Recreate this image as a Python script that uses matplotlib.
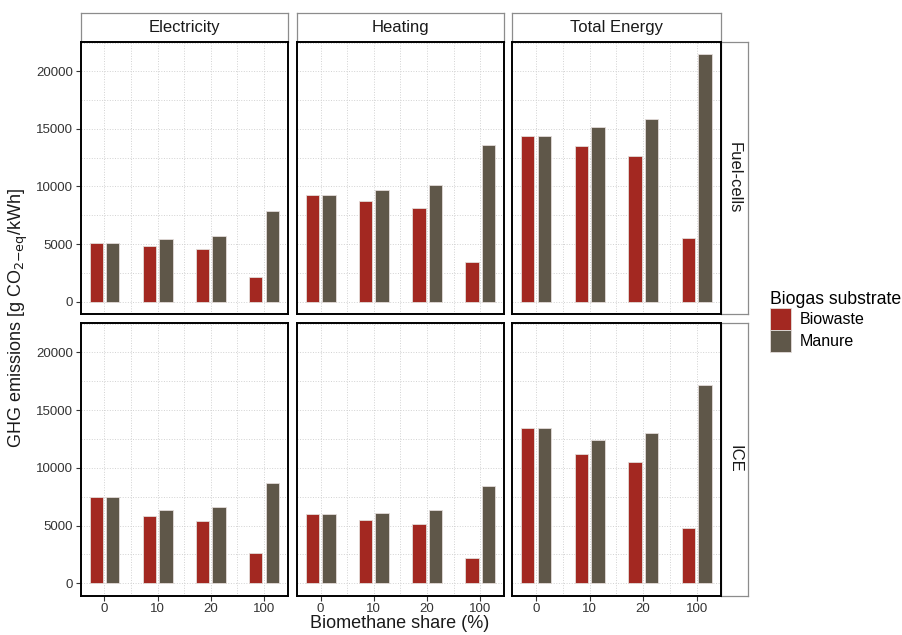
import numpy as np
import matplotlib.pyplot as plt
from matplotlib.ticker import FixedLocator, MultipleLocator
from matplotlib.patches import Patch

plt.rcParams['font.family'] = ['Liberation Sans', 'DejaVu Sans']

shares = ['0', '10', '20', '100']
energy_types = ['Electricity', 'Heating', 'Total Energy']
technologies = ['Fuel-cells', 'ICE']
substrates = ['Biowaste', 'Manure']
colors = ['#a32821', '#5f5749']

# Fuel-cells row
fc_elec_biowaste = [5130, 4830, 4570, 2130]
fc_elec_manure = [5130, 5410, 5670, 7910]
fc_heat_biowaste = [9270, 8720, 8090, 3400]
fc_heat_manure = [9270, 9700, 10130, 13640]
fc_total_biowaste = [14390, 13520, 12660, 5500]
fc_total_manure = [14390, 15140, 15850, 21490]

# ICE row
ice_elec_biowaste = [7480, 5790, 5400, 2590]
ice_elec_manure = [7480, 6360, 6650, 8690]
ice_heat_biowaste = [5960, 5470, 5100, 2210]
ice_heat_manure = [5960, 6130, 6360, 8460]
ice_total_biowaste = [13470, 11230, 10500, 4750]
ice_total_manure = [13470, 12440, 13000, 17150]

data = {
    ('Fuel-cells', 'Electricity'): (fc_elec_biowaste, fc_elec_manure),
    ('Fuel-cells', 'Heating'): (fc_heat_biowaste, fc_heat_manure),
    ('Fuel-cells', 'Total Energy'): (fc_total_biowaste, fc_total_manure),
    ('ICE', 'Electricity'): (ice_elec_biowaste, ice_elec_manure),
    ('ICE', 'Heating'): (ice_heat_biowaste, ice_heat_manure),
    ('ICE', 'Total Energy'): (ice_total_biowaste, ice_total_manure),
}

W, H = 903, 635
fig = plt.figure(figsize=(W / 100, H / 100), dpi=100)


def rect(x0, y0, x1, y1):
    # pixel box (top-left origin) -> figure fraction
    return [x0 / W, 1 - y1 / H, (x1 - x0) / W, (y1 - y0) / H]


col_x = [(80.5, 288.0), (296.7, 504.3), (512.0, 720.7)]
row_y = [(41.7, 314.0), (322.7, 595.7)]
strip_top = (13.3, 41.7)
strip_right = (720.7, 748.3)

x = np.arange(1, len(shares) + 1)
off = 0.155
bw = 0.25

# strips
for c, et in enumerate(energy_types):
    sax = fig.add_axes(rect(col_x[c][0], strip_top[0], col_x[c][1], strip_top[1]))
    sax.set_xticks([])
    sax.set_yticks([])
    for s in sax.spines.values():
        s.set_color('#8c8c8c')
        s.set_linewidth(0.9)
    sax.text(0.5, 0.5, et, ha='center', va='center', fontsize=12,
             color='#1a1a1a', transform=sax.transAxes)

for r, tech in enumerate(technologies):
    sax = fig.add_axes(rect(strip_right[0], row_y[r][0], strip_right[1], row_y[r][1]))
    sax.set_xticks([])
    sax.set_yticks([])
    for s in sax.spines.values():
        s.set_color('#8c8c8c')
        s.set_linewidth(0.9)
    sax.text(0.5, 0.5, tech, ha='center', va='center', fontsize=12,
             color='#1a1a1a', rotation=270, transform=sax.transAxes)

for r, tech in enumerate(technologies):
    for c, et in enumerate(energy_types):
        ax = fig.add_axes(rect(col_x[c][0], row_y[r][0], col_x[c][1], row_y[r][1]))
        bio, man = data[(tech, et)]
        ax.bar(x - off, bio, width=bw, color=colors[0], edgecolor='#e3dcd9',
               linewidth=0.6, zorder=3)
        ax.bar(x + off, man, width=bw, color=colors[1], edgecolor='#e3dcd9',
               linewidth=0.6, zorder=3)
        ax.set_xlim(0.55, 4.45)
        ax.set_ylim(-1075, 22575)

        ax.yaxis.set_major_locator(MultipleLocator(5000))
        ax.yaxis.set_minor_locator(MultipleLocator(2500))
        ax.xaxis.set_major_locator(FixedLocator(x))
        ax.xaxis.set_minor_locator(FixedLocator([1.5, 2.5, 3.5]))
        ax.grid(True, which='both', linestyle=':', color='#d2d2d2',
                linewidth=0.7, zorder=0)
        ax.set_axisbelow(True)

        ax.tick_params(which='minor', length=0)
        ax.tick_params(which='major', length=3.5, width=0.8, color='#333333',
                       labelsize=9.5, labelcolor='#333333', pad=2)

        if c == 0:
            ax.set_yticklabels([f'{v:.0f}' for v in ax.get_yticks()])
        else:
            ax.tick_params(axis='y', which='both', left=False, labelleft=False)
        if r == 1:
            ax.set_xticklabels(shares)
        else:
            ax.tick_params(axis='x', which='both', bottom=False, labelbottom=False)

        for s in ax.spines.values():
            s.set_color('black')
            s.set_linewidth(1.4)
            s.set_zorder(5)

fig.text(400 / W, 1 - 623 / H, 'Biomethane share (%)', ha='center', va='center',
         fontsize=13, color='#1a1a1a')
fig.text(18 / W, 1 - 318 / H, r'GHG emissions [g CO$_{2\mathrm{-eq}}$/kWh]',
         ha='center', va='center', rotation=90, fontsize=13, color='#1a1a1a')

handles = [Patch(facecolor=colors[i], edgecolor='#e3dcd9', linewidth=0.6)
           for i in range(len(substrates))]
leg = fig.legend(handles, substrates, title='Biogas substrate',
                 loc='upper left', bbox_to_anchor=(760 / W, 1 - 281 / H),
                 frameon=False, fontsize=11.5, title_fontsize=12.7,
                 handlelength=1.35, handleheight=1.75, handletextpad=0.55,
                 labelspacing=0.0, borderaxespad=0, borderpad=0.6)
leg._legend_box.align = 'left'

fig.savefig('out.png', dpi=100)
